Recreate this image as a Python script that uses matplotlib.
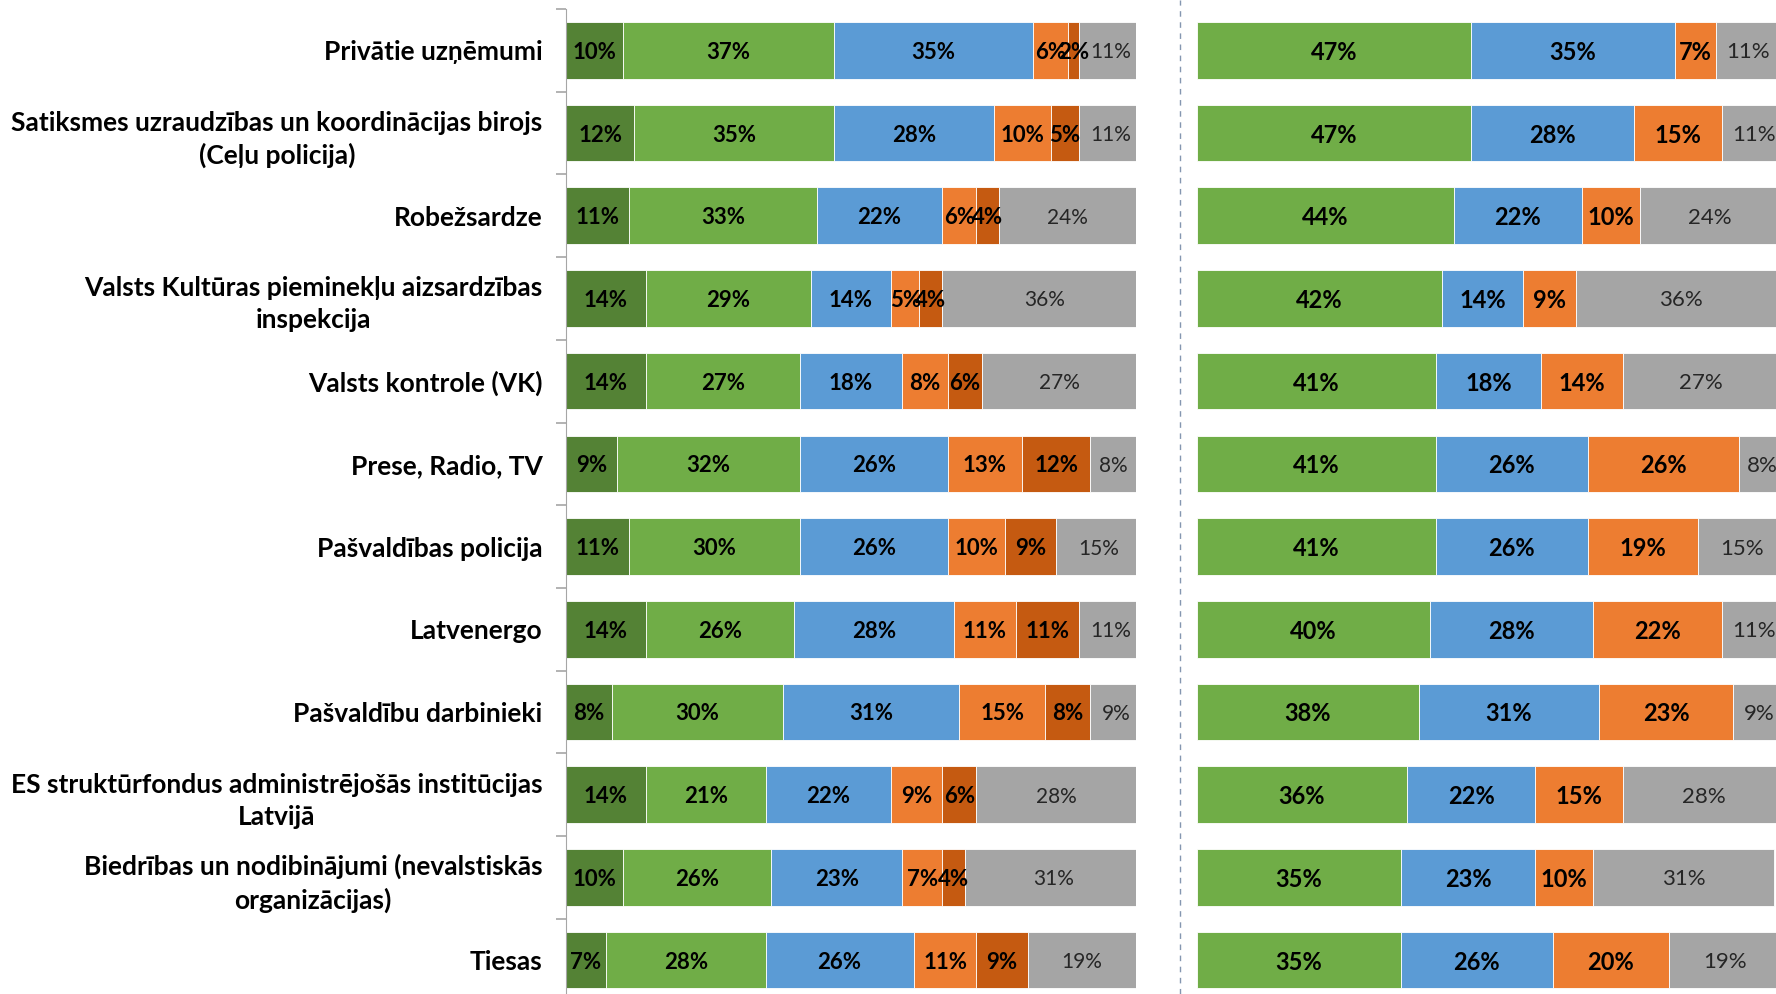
import numpy as np
import matplotlib.pyplot as plt
from matplotlib.lines import Line2D

plt.rcParams['font.family'] = ['Lato', 'DejaVu Sans']

categories = [
    "Privātie uzņēmumi",
    "Satiksmes uzraudzības un koordinācijas birojs\n(Ceļu policija)",
    "Robežsardze",
    "Valsts Kultūras pieminekļu aizsardzības\ninspekcija",
    "Valsts kontrole (VK)",
    "Prese, Radio, TV",
    "Pašvaldības policija",
    "Latvenergo",
    "Pašvaldību darbinieki",
    "ES struktūrfondus administrējošās institūcijas\nLatvijā",
    "Biedrības un nodibinājumi (nevalstiskās\norganizācijas)",
    "Tiesas",
]

# left panel: six answer groups
left_dark_green = [10, 12, 11, 14, 14, 9, 11, 14, 8, 14, 10, 7]
left_green = [37, 35, 33, 29, 27, 32, 30, 26, 30, 21, 26, 28]
left_blue = [35, 28, 22, 14, 18, 26, 26, 28, 31, 22, 23, 26]
left_orange = [6, 10, 6, 5, 8, 13, 10, 11, 15, 9, 7, 11]
left_dark_orange = [2, 5, 4, 4, 6, 12, 9, 11, 8, 6, 4, 9]
left_gray = [11, 11, 24, 36, 27, 8, 15, 11, 9, 28, 31, 19]

# right panel: grouped answers
right_green = [47, 47, 44, 42, 41, 41, 41, 40, 38, 36, 35, 35]
right_blue = [35, 28, 22, 14, 18, 26, 26, 28, 31, 22, 23, 26]
right_orange = [7, 15, 10, 9, 14, 26, 19, 22, 23, 15, 10, 20]
right_gray = [11, 11, 24, 36, 27, 8, 15, 11, 9, 28, 31, 19]

c_dgreen = '#548235'
c_green = '#70ad47'
c_blue = '#5b9bd5'
c_orange = '#ed7d31'
c_dorange = '#c55a11'
c_gray = '#a5a5a5'

fig = plt.figure(figsize=(17.76, 9.94), dpi=100)
W, H = 1776, 994
top_px, row_px = 9, 82.7
ax_h = 12 * row_px
y0 = (H - top_px - ax_h) / H

ax1 = fig.add_axes([566 / W, y0, 570 / W, ax_h / H])
ax2 = fig.add_axes([1197 / W, y0, 583 / W, ax_h / H])

y = np.arange(len(categories))
bar_h = 0.685


def draw(ax, series, colors, size):
    left = np.zeros(len(categories))
    for vals, col in zip(series, colors):
        vals = np.array(vals, dtype=float)
        ax.barh(y, vals, left=left, height=bar_h, color=col,
                edgecolor='white', linewidth=0.6)
        for yi, l, v in zip(y, left, vals):
            if col == c_gray:
                ax.text(l + v / 2, yi, f'{v:.0f}%', ha='center', va='center_baseline',
                        fontsize=size - 1, color='#262626', clip_on=False)
            else:
                ax.text(l + v / 2, yi, f'{v:.0f}%', ha='center', va='center_baseline',
                        fontsize=size, fontweight='bold', color='black')
        left += vals
    ax.set_xlim(0, 100)
    ax.set_ylim(11.5, -0.5)
    ax.set_xticks([])
    for s in ['top', 'right', 'bottom']:
        ax.spines[s].set_visible(False)


draw(ax1, [left_dark_green, left_green, left_blue, left_orange, left_dark_orange, left_gray],
     [c_dgreen, c_green, c_blue, c_orange, c_dorange, c_gray], 16)
draw(ax2, [right_green, right_blue, right_orange, right_gray],
     [c_green, c_blue, c_orange, c_gray], 17)

ax1.spines['left'].set_color('#a6a6a6')
ax1.set_yticks(y)
ax1.set_yticklabels(categories, fontsize=19, fontweight='bold')
for lab in ax1.get_yticklabels():
    lab.set_multialignment('center')
    lab.set_linespacing(1.4)
ax1.tick_params(axis='y', which='major', length=0, pad=17)
ax1.set_yticks(np.arange(-0.5, 12, 1), minor=True)
ax1.tick_params(axis='y', which='minor', length=7, color='#a6a6a6', width=1.2)

ax2.spines['left'].set_visible(False)
ax2.set_yticks([])

fig.add_artist(Line2D([1180 / W, 1180 / W], [0, 1], transform=fig.transFigure,
                      color='#8496b0', linewidth=1.0, linestyle=(0, (4, 4))))

fig.savefig('out.png', dpi=100)
